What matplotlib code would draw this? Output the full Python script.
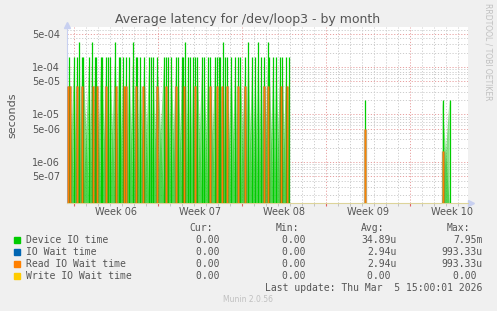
import matplotlib
matplotlib.use("Agg")
import matplotlib.pyplot as plt
import numpy as np
from matplotlib.ticker import FixedLocator, LogLocator, NullFormatter

# days since Mon 2026-02-02 (start of Week 06)
green_t = [-0.41, 0.01, 0.26, 0.43, 0.68, 0.76, 1.26, 1.51, 1.76, 1.84, 2.26, 2.34,
           2.68, 2.84, 3.01, 3.43, 3.76, 3.84, 4.09, 4.34, 4.59, 4.93, 5.18, 5.26,
           5.51, 5.84, 6.26, 6.43, 6.59, 6.93, 7.51, 7.68, 7.84, 8.09, 8.51, 8.68,
           9.01, 9.09, 9.26, 9.51, 9.68, 9.93, 10.09, 10.26, 10.68, 10.84, 11.18,
           11.34, 11.76, 11.93, 12.09, 12.18, 12.43, 12.59, 12.76, 13.09, 13.43,
           13.68, 13.84, 14.26, 14.51, 14.84, 15.09, 15.34, 15.59, 15.84, 16.18,
           16.26, 16.59, 16.84, 17.18, 17.34, 17.68, 17.93, 24.26, 30.68, 31.26]
tall = [0.43, 1.51, 3.43, 4.93, 9.26, 12.43, 14.51, 15.34, 16.18]
late = {24.26: 2.0e-5, 30.68: 2.0e-5, 31.26: 2.0e-5}
green_v = [late.get(t, 3.3e-4 if t in tall else 1.6e-4) for t in green_t]

orange_t = [-0.49, -0.33, 0.26, 0.68, 1.59, 1.93, 2.68, 3.51, 4.18, 4.34, 5.18, 5.76,
            6.93, 7.68, 8.51, 9.18, 10.09, 11.34, 11.93, 12.34, 12.76, 13.68, 14.26,
            15.84, 16.18, 17.26, 17.76, 24.26, 30.68]
orange_v = [4.0e-5] * 27 + [5.0e-6, 1.7e-6]

weeks = ["Week 06", "Week 07", "Week 08", "Week 09", "Week 10"]
ytick_vals = [1e-7, 5e-7, 1e-6, 5e-6, 1e-5, 5e-5, 1e-4, 5e-4]
ytick_labels = ["", "5e-07", "1e-06", "5e-06", "1e-05", "5e-05", "1e-04", "5e-04"]

legend_names = ["Device IO time", "IO Wait time", "Read IO Wait time", "Write IO Wait time"]
legend_colors = ["#00cc00", "#0066b3", "#ff8000", "#ffcc00"]
cur = ["0.00 ", "0.00 ", "0.00 ", "0.00 "]
mins = ["0.00 ", "0.00 ", "0.00 ", "0.00 "]
avgs = ["34.89u", "2.94u", "2.94u", "0.00 "]
maxs = ["7.95m", "993.33u", "993.33u", "0.00 "]

W, H = 497, 311
fig = plt.figure(figsize=(W / 100, H / 100), dpi=100, facecolor="#f0f0f0")
ax = fig.add_axes([67 / W, 1 - 203 / H, 401 / W, 176 / H])
ax.set_facecolor("white")
ax.set_yscale("log")
ymin, ymax = 1.37e-7, 6.95e-4
ax.set_xlim(-0.6, 32.8)
ax.set_ylim(ymin, ymax)


def ramps(ts, vs, color, alpha, gap=0.6):
    # translucent ramps between neighbouring spikes, both directions
    for i in range(len(ts) - 1):
        if ts[i + 1] - ts[i] < gap:
            ax.fill([ts[i], ts[i], ts[i + 1]], [ymin, vs[i], ymin],
                    color=color, alpha=alpha, lw=0, zorder=2)
            ax.fill([ts[i], ts[i + 1], ts[i + 1]], [ymin, vs[i + 1], ymin],
                    color=color, alpha=alpha, lw=0, zorder=2)


ramps(green_t, green_v, "#22cc22", 0.55)
ax.vlines(green_t, ymin, green_v, color="#00cc00", lw=0.9, zorder=3)
ax.vlines(orange_t, ymin, orange_v, color="#b07020", lw=2.4, alpha=0.6, zorder=4)
ax.vlines(orange_t, ymin, orange_v, color="#ff8000", lw=0.8, zorder=5)

# grid
ax.xaxis.set_major_locator(FixedLocator([0, 7, 14, 21, 28]))
ax.xaxis.set_minor_locator(FixedLocator(np.arange(0, 33)))
ax.xaxis.set_major_formatter(NullFormatter())
ax.yaxis.set_major_locator(FixedLocator(ytick_vals))
ax.yaxis.set_minor_locator(LogLocator(subs=[2, 3, 4, 6, 7, 8, 9]))
ax.yaxis.set_minor_formatter(NullFormatter())
ax.set_yticklabels(ytick_labels)
ax.grid(which="major", color="#e8a0a0", lw=0.7, ls=(0, (1.2, 1.8)), zorder=1)
ax.grid(which="minor", color="#cccccc", lw=0.7, ls=(0, (1.2, 1.8)), zorder=1)
ax.tick_params(axis="y", which="both", length=0, pad=5, labelsize=7, labelcolor="#555555")
ax.tick_params(axis="x", which="major", length=2, color="#e06060", direction="out")
ax.tick_params(axis="x", which="minor", length=2, color="#bbbbbb", direction="out")
for s in ["top", "right"]:
    ax.spines[s].set_visible(False)
ax.spines["left"].set_color("#c8d0f0")
ax.spines["bottom"].set_color("#ddd49a")
ax.plot([-0.6], [ymax * 1.12], marker="^", ms=4, color="#c8d0f0", clip_on=False)
ax.plot([33.05], [ymin], marker=">", ms=4, color="#c8d0f0", clip_on=False)

for i, w in enumerate(weeks):
    ax.text(3.5 + 7 * i, -0.05, w, transform=ax.get_xaxis_transform(),
            ha="center", va="center", fontsize=7, color="#555555")

fig.text(248 / W, 1 - 19 / H, "Average latency for /dev/loop3 - by month",
         ha="center", va="center", fontsize=9, color="#555555")
fig.text(12 / W, 1 - 115 / H, "seconds", rotation=90, ha="center", va="center",
         fontsize=8, color="#555555")
fig.text(488 / W, 1 - 52 / H, "RRDTOOL / TOBI OETIKER", rotation=270, ha="center",
         va="center", fontsize=5.5, color="#c0c0c0")

mono = "DejaVu Sans Mono"
fs = 7
hdr_y = 228
for txt, xr in [("Cur:", 213), ("Min:", 299), ("Avg:", 384), ("Max:", 470)]:
    fig.text(xr / W, 1 - hdr_y / H, txt, ha="right", va="center", family=mono,
             fontsize=fs, color="#555555")
for i, name in enumerate(legend_names):
    y = 240 + 12 * i
    fig.patches.append(plt.Rectangle((14 / W, 1 - (y + 3) / H), 6 / W, 6 / H,
                                     transform=fig.transFigure, color=legend_colors[i]))
    fig.text(26 / W, 1 - y / H, name, ha="left", va="center", family=mono,
             fontsize=fs, color="#555555")
    for vals, xr in [(cur, 225.3), (mins, 311.6), (avgs, 396.7), (maxs, 482.7)]:
        fig.text(xr / W, 1 - y / H, vals[i], ha="right", va="center", family=mono,
                 fontsize=fs, color="#555555")
fig.text(482.7 / W, 1 - 288 / H, "Last update: Thu Mar  5 15:00:01 2026", ha="right",
         va="center", family=mono, fontsize=fs, color="#555555")
fig.text(248 / W, 1 - 300 / H, "Munin 2.0.56", ha="center", va="center",
         fontsize=5.5, color="#c0c0c0")

fig.savefig("out.png", dpi=100, facecolor=fig.get_facecolor())
